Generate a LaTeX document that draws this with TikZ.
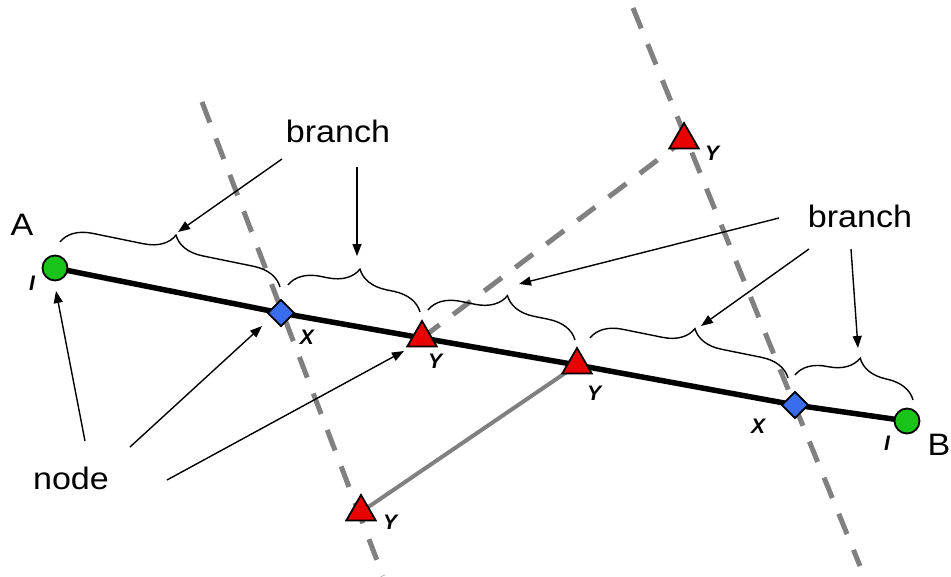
\documentclass[tikz,border=0pt]{standalone}
\usepackage{fontspec}
\setmainfont{Liberation Sans}
\usepackage{graphicx}
\usetikzlibrary{arrows.meta,decorations.pathreplacing,shapes.geometric,backgrounds}
\definecolor{ngreen}{RGB}{24,196,24}
\definecolor{nblue}{RGB}{58,108,238}
\definecolor{nred}{RGB}{232,0,0}
\definecolor{lgray}{RGB}{128,128,128}
\newcommand\widetext[1]{\scalebox{1.1}[1]{#1}}
\begin{document}
\begin{tikzpicture}[x=1pt,y=-1pt,
  endpt/.style={circle,draw=black,line width=1.8pt,fill=ngreen,minimum size=25pt,inner sep=0pt},
  xnode/.style={diamond,draw=black,line width=1.8pt,fill=nblue,minimum size=27pt,inner sep=0pt},
  ynode/.style={regular polygon,regular polygon sides=3,draw=black,line width=1.8pt,fill=nred,minimum size=34pt,inner sep=0pt},
  big/.style={font=\fontsize{31}{36}\selectfont,inner sep=0pt,anchor=base},
  small/.style={font=\fontsize{21}{24}\selectfont\bfseries\itshape,inner sep=0pt},
  gdash/.style={draw=lgray,line width=5pt,dash pattern=on 22pt off 17pt},
  gsolid/.style={draw=lgray,line width=4pt},
  mainline/.style={draw=black,line width=5.5pt},
  brc/.style={decorate,decoration={brace,amplitude=30pt},line width=1.4pt},
  arr/.style={-{Triangle[length=12pt,width=9pt]},line width=1.4pt}]
\useasboundingbox (0,0) rectangle (951,576);
% nodes
\node[endpt] (A) at (55,268) {};
\node[xnode] (X1) at (281,313) {};
\node[ynode] (Y1) at (422,338) {};
\node[ynode] (Y2) at (577,365) {};
\node[xnode] (X2) at (795,405) {};
\node[endpt] (B) at (907,421) {};
\node[ynode] (Yb) at (361,512) {};
\node[ynode] (Yt) at (684,140) {};
% lines behind
\begin{scope}[on background layer]
\fill[white] (0,0) rectangle (951,576);
\coordinate (d1s) at (202,102); \coordinate (d1e) at (383,576);
\coordinate (d2s) at (633,8); \coordinate (d2e) at (860,566);
\draw[gdash] (d1s) -- (d1e);
\draw[gdash] (d2s) -- (d2e);
\draw[gdash] (Y1.center) -- (Yt.center);
\draw[gsolid] (Y2.center) -- (Yb.center);
\draw[mainline] (A.center) -- (X1.center) -- (Y1.center) -- (Y2.center) -- (X2.center) -- (B.center);
\end{scope}
% small labels
\node[small] (lI1) at (32,283) {I};
\node[small] (lX1) at (307,337) {X};
\node[small] (lY1) at (435,361) {Y};
\node[small] (lY2) at (594,393) {Y};
\node[small] (lX2) at (758,426) {X};
\node[small] (lI2) at (887,443) {I};
\node[small] (lYb) at (390,522) {Y};
\node[small] (lYt) at (712,153) {Y};
% big labels
\node[big] (brL) at (338,142) {\widetext{branch}};
\node[big] (brR) at (860,227) {\widetext{branch}};
\node[big] (nd) at (71,489) {\widetext{node}};
\node[big] (lA) at (22,235) {\widetext{A}};
\node[big] (lB) at (939,455) {\widetext{B}};
% braces
\coordinate (b1a) at (60,242); \coordinate (b1b) at (280,287);
\coordinate (b2a) at (288,285); \coordinate (b2b) at (420,312);
\coordinate (b3a) at (428,310); \coordinate (b3b) at (575,340);
\coordinate (b4a) at (590,338); \coordinate (b4b) at (788,378);
\coordinate (b5a) at (795,375); \coordinate (b5b) at (913,400);
\draw[brc] (b1a) -- (b1b);
\draw[brc] (b2a) -- (b2b);
\draw[brc] (b3a) -- (b3b);
\draw[brc] (b4a) -- (b4b);
\draw[brc] (b5a) -- (b5b);
% arrows
\coordinate (s1) at (282,159); \coordinate (t1) at (178,232);
\coordinate (s2) at (357,167); \coordinate (t2) at (357,256);
\coordinate (s3) at (779,218); \coordinate (t3) at (519,284);
\coordinate (s4) at (809,249); \coordinate (t4) at (701,326);
\coordinate (s5) at (851,249); \coordinate (t5) at (858,348);
\coordinate (s6) at (85,441); \coordinate (t6) at (56,291);
\coordinate (s7) at (130,447); \coordinate (t7) at (262,326);
\coordinate (s8) at (167,480); \coordinate (t8) at (404,351);
\draw[arr] (s1) -- (t1);
\draw[arr] (s2) -- (t2);
\draw[arr] (s3) -- (t3);
\draw[arr] (s4) -- (t4);
\draw[arr] (s5) -- (t5);
\draw[arr] (s6) -- (t6);
\draw[arr] (s7) -- (t7);
\draw[arr] (s8) -- (t8);
\end{tikzpicture}
\end{document}
